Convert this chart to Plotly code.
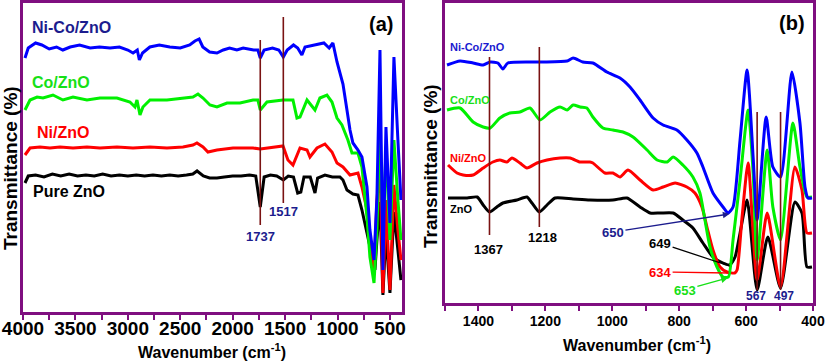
import plotly.graph_objects as go

# ---------------- Panel (a) data : wavenumber (cm-1) / transmittance (arb. units) ----------------
a_blue_x = [3981, 3950, 3880, 3820, 3750, 3680, 3620, 3550, 3460, 3360, 3270, 3170, 3080, 3000, 2950, 2910,
            2890, 2860, 2790, 2700, 2600, 2500, 2410, 2360, 2320, 2285, 2220, 2150, 2090, 2030, 1960, 1900,
            1800, 1760, 1737, 1700, 1620, 1560, 1517, 1480, 1420, 1380, 1340, 1310, 1220, 1130, 1080, 1044,
            1005, 977, 948, 910, 881, 853, 805, 767, 719, 691, 652, 624, 595, 567, 538, 500, 462, 424, 395]
a_blue_y = [254, 264, 269, 267, 263, 265, 262, 265, 267, 264, 265, 264, 265, 262, 259, 262,
            252, 259, 265, 267, 265, 264, 267, 271, 273, 265, 260, 259, 262, 264, 262, 264,
            262, 262, 254, 262, 264, 262, 255, 262, 267, 264, 257, 265, 267, 269, 264, 269,
            250, 240, 228, 202, 182, 169, 162, 155, 125, 82, 52, 115, 262, 42, 185, 89, 255, 172, 112]

a_green_x = [3981, 3933, 3866, 3809, 3714, 3619, 3523, 3390, 3266, 3104, 2980, 2932, 2913, 2884, 2856, 2789,
             2627, 2474, 2379, 2331, 2283, 2217, 2150, 2054, 1930, 1806, 1760, 1737, 1673, 1520, 1425, 1387,
             1358, 1291, 1215, 1168, 1101, 1053, 1005, 958, 901, 862, 805, 767, 719, 691, 652, 624, 595, 567,
             538, 500, 462, 424, 395]
a_green_y = [202, 212, 215, 214, 217, 212, 215, 212, 214, 214, 210, 205, 212, 197, 205, 212,
             212, 214, 215, 218, 214, 207, 205, 209, 209, 212, 212, 202, 210, 212, 212, 194,
             195, 212, 202, 214, 217, 210, 194, 187, 172, 159, 159, 145, 95, 55, 29, 82, 189, 82,
             162, 72, 172, 112, 72]

a_red_x = [3981, 3933, 3838, 3743, 3647, 3523, 3390, 3266, 3104, 2951, 2789, 2627, 2474, 2379, 2341, 2283,
           2236, 2150, 1997, 1806, 1737, 1673, 1520, 1473, 1425, 1358, 1291, 1263, 1196, 1120, 1053, 1005,
           948, 881, 805, 767, 719, 691, 652, 624, 595, 567, 538, 500, 462, 424, 395]
a_red_y = [157, 164, 165, 164, 165, 164, 165, 164, 165, 164, 165, 164, 165, 167, 169, 165,
           160, 162, 164, 164, 163, 164, 166, 152, 147, 164, 162, 155, 164, 168, 160, 149,
           145, 137, 139, 125, 102, 67, 42, 112, 147, 19, 112, 22, 127, 82, 52]

a_black_x = [3981, 3950, 3880, 3800, 3720, 3640, 3560, 3480, 3400, 3320, 3240, 3160, 3080, 3000, 2920, 2840,
             2760, 2680, 2600, 2520, 2440, 2380, 2340, 2280, 2220, 2150, 2080, 2000, 1920, 1840, 1780, 1737,
             1700, 1640, 1580, 1517, 1470, 1420, 1380, 1350, 1320, 1260, 1215, 1190, 1120, 1050, 977, 948,
             910, 853, 805, 767, 719, 691, 643, 624, 595, 567, 538, 500, 462, 424, 395]
a_black_y = [129, 136, 137, 135, 138, 136, 138, 136, 137, 136, 138, 136, 137, 136, 137, 136,
             137, 136, 137, 136, 137, 138, 141, 136, 134, 134, 135, 136, 136, 137, 136, 105,
             135, 137, 136, 132, 136, 135, 119, 120, 135, 135, 119, 134, 137, 135, 135, 132,
             122, 118, 117, 102, 79, 65, 42, 72, 110, 17, 80, 19, 100, 62, 32]

# ---------------- Panel (b) data ----------------
b_blue_x = [1494, 1455, 1416, 1386, 1365, 1342, 1327, 1312, 1216, 1135, 1117, 1088, 1058, 1016, 977, 947,
            917, 878, 848, 807, 777, 747, 729, 699, 669, 654, 639, 618, 597, 579, 567, 540, 520, 497,
            463, 439, 424, 415, 403]
b_blue_y = [238, 242, 240, 238, 241, 240, 234, 240, 241, 242, 245, 241, 240, 231, 225, 216,
            203, 185, 178, 173, 163, 150, 136, 110, 96, 90, 96, 163, 233, 146, 83, 186, 136, 126,
            231, 180, 116, 105, 105]

b_green_x = [1494, 1455, 1416, 1386, 1365, 1336, 1306, 1276, 1246, 1216, 1186, 1156, 1135, 1117, 1096, 1076,
             1058, 1028, 998, 968, 938, 896, 866, 836, 818, 789, 759, 738, 723, 708, 687, 669, 653,
             639, 618, 594, 579, 567, 537, 520, 497, 460, 439, 418, 403]
b_green_y = [193, 195, 181, 176, 175, 185, 190, 191, 195, 183, 191, 196, 193, 198, 196, 195,
             186, 175, 173, 171, 166, 153, 143, 141, 146, 138, 126, 110, 83, 56, 36, 26, 26,
             63, 123, 193, 130, 43, 153, 96, 63, 180, 136, 106, 106]

b_red_x = [1491, 1464, 1446, 1416, 1386, 1357, 1336, 1315, 1300, 1276, 1255, 1225, 1195, 1156, 1126, 1096,
           1067, 1058, 1022, 998, 977, 953, 917, 878, 848, 812, 777, 753, 732, 717, 699, 678, 657,
           634, 627, 612, 594, 567, 537, 497, 454, 433, 418, 403]
b_red_y = [138, 130, 128, 128, 135, 141, 143, 141, 145, 140, 135, 140, 143, 145, 145, 141,
           141, 140, 130, 130, 126, 133, 123, 113, 116, 120, 116, 110, 96, 76, 53, 36, 31,
           30, 33, 86, 140, 23, 90, 16, 136, 113, 70, 70]

b_black_x = [1491, 1434, 1404, 1386, 1367, 1345, 1327, 1285, 1255, 1240, 1218, 1195, 1171, 1117, 1067, 998,
             956, 917, 887, 857, 818, 789, 759, 729, 699, 669, 649, 633, 618, 597, 567, 535, 497,
             454, 433, 418, 403]
b_black_y = [105, 105, 106, 98, 91, 96, 100, 103, 106, 100, 91, 98, 105, 104, 103, 103,
             105, 96, 90, 90, 90, 83, 75, 60, 46, 40, 38, 46, 70, 103, 13, 66, 15,
             101, 90, 36, 36]

# marker lines: wavenumber, low, high
a_marks = [1737, 1517]
a_mark_lo = [87, 109]
a_mark_hi = [272, 295]
b_marks = [1367, 1218, 567, 497]
b_mark_lo = [68, 76, 13, 13]
b_mark_hi = [246, 256, 191, 191]

a_tick_labels = ["4000", "3500", "3000", "2500", "2000", "1500", "1000", "500"]
b_tick_labels = ["1400", "1200", "1000", "800", "600", "400"]

PURPLE = "#7f0f80"
NAVY = "#1c1c8e"
GREEN_T = "#16e016"
MAROON = "#7a1212"
FONT = "Liberation Sans, Arial, sans-serif"

fig = go.Figure()
series_a = [(a_black_x, a_black_y, "black"), (a_red_x, a_red_y, "#ff0000"),
            (a_green_x, a_green_y, "#00f000"), (a_blue_x, a_blue_y, "#0000ff")]
series_b = [(b_black_x, b_black_y, "black"), (b_red_x, b_red_y, "#ff0000"),
            (b_green_x, b_green_y, "#00f000"), (b_blue_x, b_blue_y, "#0000ff")]
for xs, ys, c in series_a:
    fig.add_trace(go.Scatter(x=xs, y=ys, mode="lines", line=dict(color=c, width=3),
                             xaxis="x", yaxis="y", showlegend=False, hoverinfo="skip"))
for xs, ys, c in series_b:
    fig.add_trace(go.Scatter(x=xs, y=ys, mode="lines", line=dict(color=c, width=3, shape="spline", smoothing=0.6),
                             xaxis="x2", yaxis="y2", showlegend=False, hoverinfo="skip"))

shapes = []
for w, lo, hi in zip(a_marks, a_mark_lo, a_mark_hi):
    shapes.append(dict(type="line", xref="x", yref="y", x0=w, x1=w, y0=lo, y1=hi,
                       line=dict(color=MAROON, width=1.6)))
for w, lo, hi in zip(b_marks, b_mark_lo, b_mark_hi):
    shapes.append(dict(type="line", xref="x2", yref="y2", x0=w, x1=w, y0=lo, y1=hi,
                       line=dict(color=MAROON, width=1.6)))

def txt(t, x, y, color, size, xref="x", yref="y", xanchor="center"):
    return dict(text="<b>%s</b>" % t, x=x, y=y, xref=xref, yref=yref, xanchor=xanchor, yanchor="middle",
                showarrow=False, font=dict(family=FONT, size=size, color=color))

def arrow(t, x, y, ax, ay, color, head, xref="x2", yref="y2"):
    return dict(text="<b>%s</b>" % t, x=x, y=y, ax=ax, ay=ay, xref=xref, yref=yref, axref=xref, ayref=yref,
                showarrow=True, arrowhead=head, arrowsize=1, arrowwidth=1.3, arrowcolor=color, standoff=0,
                font=dict(family=FONT, size=13, color=color))

def ptxt(t, xp, yp, size, angle=0):
    return dict(text="<b>%s</b>" % t, x=xp / 827, y=(361 - yp) / 361, xref="paper", yref="paper",
                xanchor="center", yanchor="middle", textangle=angle, showarrow=False,
                font=dict(family=FONT, size=size, color="black"))

annotations = [
    txt("Ni-Co/ZnO", 3935, 285, NAVY, 16, xanchor="left"),
    txt("Co/ZnO", 3935, 230, GREEN_T, 16, xanchor="left"),
    txt("Ni/ZnO", 3885, 180, "#ff0000", 16, xanchor="left"),
    txt("Pure ZnO", 3925, 121, "black", 16, xanchor="left"),
    txt("(a)", 590, 288, "black", 20),
    txt("1737", 1730, 76, NAVY, 13),
    txt("1517", 1515, 101, NAVY, 13),
    txt("Ni-Co/ZnO", 1492, 256, "#1a1ad0", 11, "x2", "y2", "left"),
    txt("Co/ZnO", 1492, 203, GREEN_T, 11, "x2", "y2", "left"),
    txt("Ni/ZnO", 1492, 145, "#ff0000", 11, "x2", "y2", "left"),
    txt("ZnO", 1492, 94, "black", 11, "x2", "y2", "left"),
    txt("(b)", 462, 280, "black", 20, "x2", "y2"),
    txt("1367", 1371, 54, "black", 13, "x2", "y2"),
    txt("1218", 1210, 66, "black", 13, "x2", "y2"),
    txt("567", 569, 7, NAVY, 12, "x2", "y2"),
    txt("497", 488, 7, NAVY, 12, "x2", "y2"),
    arrow("650", 650, 89, 998, 71, NAVY, 2),
    arrow("649", 649, 37, 857, 60, "black", 0),
    arrow("634", 652, 30, 857, 31, "#ff0000", 0),
    arrow("653", 655, 25, 783, 13, GREEN_T, 2),
    ptxt("Wavenumber (cm<sup>-1</sup>)", 212, 351, 16),
    ptxt("Wavenumber (cm<sup>-1</sup>)", 637, 344, 16),
    ptxt("Transmittance (%)", 10, 168, 19, -90),
    ptxt("Transmittance (%)", 430, 166, 19, -90),
]

axis_common = dict(showgrid=False, zeroline=False, showline=True, linecolor=PURPLE, linewidth=3, mirror=True,
                   ticks="outside", ticklen=5, tickwidth=2, tickcolor=PURPLE, automargin=False)

fig.update_layout(
    width=827, height=361, margin=dict(l=0, r=0, t=0, b=0),
    paper_bgcolor="white", plot_bgcolor="white",
    xaxis=dict(domain=[23 / 827, 402 / 827], range=[4000, 385], anchor="y",
               tickvals=[4000, 3500, 3000, 2500, 2000, 1500, 1000, 500], ticktext=a_tick_labels,
               minor=dict(dtick=250, tick0=0, ticks="outside", ticklen=5, tickwidth=2, tickcolor=PURPLE),
               ticklabelstandoff=-8,
               tickfont=dict(family=FONT, size=19, color="black", weight="bold"), **axis_common),
    yaxis=dict(domain=[(361 - 312) / 361, (361 - 3) / 361], range=[0, 309], anchor="x",
               showticklabels=False, showgrid=False, zeroline=False, showline=True, linecolor=PURPLE,
               linewidth=3, mirror=True, ticks="", automargin=False),
    xaxis2=dict(domain=[445 / 827, 813 / 827], range=[1500, 400], anchor="y2",
                tickvals=[1400, 1200, 1000, 800, 600, 400], ticktext=b_tick_labels,
                minor=dict(dtick=100, tick0=0, ticks="outside", ticklen=5, tickwidth=2, tickcolor=PURPLE),
                ticklabelstandoff=-2,
                tickfont=dict(family=FONT, size=14, color="black", weight="bold"), **axis_common),
    yaxis2=dict(domain=[(361 - 303) / 361, (361 - 3) / 361], range=[0, 300], anchor="x2",
                showticklabels=False, showgrid=False, zeroline=False, showline=True, linecolor=PURPLE,
                linewidth=3, mirror=True, ticks="", automargin=False),
    shapes=shapes, annotations=annotations,
)

fig.write_html("out.html", config={"displayModeBar": False},
               post_script="document.body.style.margin='0';document.body.style.overflow='hidden';")
